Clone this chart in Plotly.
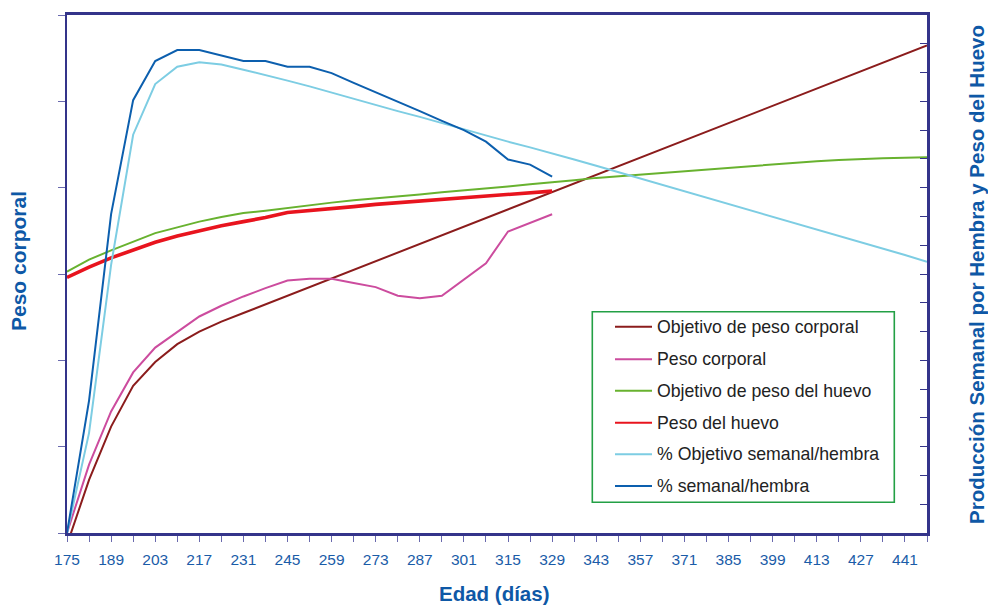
import plotly.graph_objects as go

# Age in days (weekly points)
edad = [175, 182, 189, 196, 203, 210, 217, 224, 231, 238,
        245, 252, 259, 266, 273, 280, 287, 294, 301, 308,
        315, 322, 329, 336, 343, 350, 357, 364, 371, 378,
        385, 392, 399, 406, 413, 420, 427, 434, 441, 448]

# Labelled ages on the x axis
etiquetas_edad = ["175", "189", "203", "217", "231", "245", "259", "273", "287", "301",
                  "315", "329", "343", "357", "371", "385", "399", "413", "427", "441"]

# Body weight (g), left axis
objetivo_peso_corporal = [2716, 2904, 3058, 3176, 3245, 3297, 3333, 3362, 3387, 3412,
                          3437, 3462, 3487, 3512, 3537, 3562, 3587, 3612, 3637, 3662,
                          3687, 3712, 3737, 3762, 3787, 3812, 3837, 3862, 3887, 3912,
                          3937, 3962, 3987, 4012, 4037, 4062, 4087, 4112, 4137, 4162]
peso_corporal = [2750, 2948, 3102, 3215, 3287, 3333, 3377, 3408, 3435, 3459,
                 3481, 3486, 3486, 3474, 3462, 3437, 3430, 3437, 3485, 3531,
                 3623, 3648, 3673]

# Egg weight (g), right axis
objetivo_peso_huevo = [45.4, 47.5, 49.1, 50.6, 52.1, 53.1, 54.1, 54.9, 55.6, 56.0,
                       56.5, 57.0, 57.4, 57.8, 58.1, 58.5, 58.8, 59.2, 59.5, 59.9,
                       60.2, 60.6, 60.9, 61.3, 61.7, 62.0, 62.3, 62.6, 62.9, 63.2,
                       63.5, 63.8, 64.1, 64.4, 64.6, 64.8, 65.0, 65.1, 65.2, 65.3]
peso_huevo = [44.4, 46.2, 47.8, 49.2, 50.5, 51.6, 52.5, 53.4, 54.1, 54.8,
              55.7, 56.0, 56.4, 56.7, 57.1, 57.4, 57.7, 58.0, 58.3, 58.6,
              58.8, 59.1, 59.4]

# Weekly production per hen (%), right axis
objetivo_semanal = [0.0, 17.4, 46.6, 69.2, 78.0, 81.0, 81.8, 81.4, 80.5, 79.6,
                    78.6, 77.6, 76.5, 75.4, 74.4, 73.3, 72.3, 71.2, 70.1, 69.1,
                    68.0, 67.0, 66.0, 64.9, 63.8, 62.7, 61.6, 60.5, 59.4, 58.3,
                    57.2, 56.1, 55.0, 53.9, 52.8, 51.7, 50.5, 49.5, 48.3, 47.1]
semanal = [0.0, 23.0, 55.4, 75.2, 82.0, 83.9, 83.9, 83.0, 82.0, 82.0,
           81.0, 81.0, 79.9, 78.2, 76.6, 74.9, 73.3, 71.6, 70.0, 68.0,
           64.9, 64.0, 61.9]

nombres = ["Objetivo de peso corporal", "Peso corporal", "Objetivo de peso del huevo",
           "Peso del huevo", "% Objetivo semanal/hembra", "% semanal/hembra"]
colores = ["#8B1C1C", "#CC4C9E", "#68B22F", "#E8141E", "#7DCDE3", "#0C5FAE"]
grosores = [2, 2, 2, 3.6, 2, 2]

series = [
    (edad, objetivo_peso_corporal, "y"),
    (edad[:len(peso_corporal)], peso_corporal, "y"),
    (edad, objetivo_peso_huevo, "y2"),
    (edad[:len(peso_huevo)], peso_huevo, "y2"),
    (edad, objetivo_semanal, "y2"),
    (edad[:len(semanal)], semanal, "y2"),
]

W, H = 988, 605
ML, MR, MT, MB = 67, 61, 15, 72
PW, PH = W - ML - MR, H - MT - MB


def px(x):
    return (x - ML) / PW


def py(y):
    return (H - MB - y) / PH


AXIS = "#34348A"
TICK = "#6A6AAE"
BLUE_TXT = "#1A5CA8"
TITLE = "#0E58A6"
FONT = "Liberation Sans, Arial, sans-serif"

fig = go.Figure()
for (xs, ys, eje), nombre, color, ancho in zip(series, nombres, colores, grosores):
    fig.add_trace(go.Scatter(x=xs, y=ys, name=nombre, yaxis=eje, mode="lines",
                             line=dict(color=color, width=ancho), showlegend=False))

ticktext = [str(a) if str(a) in etiquetas_edad else "" for a in edad]

fig.update_layout(
    width=W, height=H,
    margin=dict(l=ML, r=MR, t=MT, b=MB),
    paper_bgcolor="white", plot_bgcolor="white",
    font=dict(family=FONT),
    xaxis=dict(range=[edad[0], edad[-1]], tickmode="array", tickvals=edad, ticktext=ticktext,
               ticks="outside", ticklen=6, tickwidth=1.3, tickcolor=TICK,
               ticklabelstandoff=5,
               showline=True, linecolor=AXIS, linewidth=2.6, mirror=True,
               showgrid=False, zeroline=False,
               tickfont=dict(size=15.5, color=BLUE_TXT, family=FONT)),
    yaxis=dict(range=[2750, 4250], tick0=2750, dtick=250, ticks="outside", ticklen=7,
               tickwidth=1.3, tickcolor=TICK, showticklabels=False,
               showline=True, linecolor=AXIS, linewidth=2.2,
               showgrid=False, zeroline=False),
    yaxis2=dict(range=[0, 90], tick0=0, dtick=5, overlaying="y", side="right",
                ticks="inside", ticklen=7, tickwidth=1.3, tickcolor=AXIS, showticklabels=False,
                showline=True, linecolor=AXIS, linewidth=2.8,
                showgrid=False, zeroline=False),
    yaxis3=dict(range=[0, 90], tick0=0, dtick=5, overlaying="y", side="right", anchor="x",
                ticks="outside", ticklen=5, tickwidth=1.3, tickcolor=TICK, showticklabels=False,
                showline=False, showgrid=False, zeroline=False),
)

# Axis titles
fig.add_annotation(text="<b>Edad (días)</b>", xref="paper", yref="paper",
                   x=px(494), y=py(593), xanchor="center", yanchor="middle", showarrow=False,
                   font=dict(size=20.5, color=TITLE, family=FONT))
fig.add_annotation(text="<b>Peso corporal</b>", xref="paper", yref="paper",
                   x=px(18), y=py(261), xanchor="center", yanchor="middle", showarrow=False,
                   textangle=-90, font=dict(size=21, color=TITLE, family=FONT))
fig.add_annotation(text="<b>Producción Semanal por Hembra y Peso del Huevo</b>",
                   xref="paper", yref="paper", x=px(976), y=py(275),
                   xanchor="center", yanchor="middle", showarrow=False,
                   textangle=-90, font=dict(size=20.5, color=TITLE, family=FONT))

# Legend box
fig.add_shape(type="rect", xref="paper", yref="paper",
              x0=px(592.3), x1=px(894.3), y0=py(502.3), y1=py(311.7),
              line=dict(color="#23A045", width=1.6), fillcolor="white", layer="above")
filas = [326.7, 359.3, 390.7, 422.7, 454.3, 486.0]
for nombre, color, fila in zip(nombres, colores, filas):
    fig.add_shape(type="line", xref="paper", yref="paper",
                  x0=px(615), x1=px(652), y0=py(fila), y1=py(fila),
                  line=dict(color=color, width=2), layer="above")
    fig.add_annotation(text=nombre, xref="paper", yref="paper",
                       x=px(655), y=py(fila), xanchor="left", yanchor="middle",
                       showarrow=False, font=dict(size=17.7, color="#222222", family=FONT))

fig.write_html("out.html")
